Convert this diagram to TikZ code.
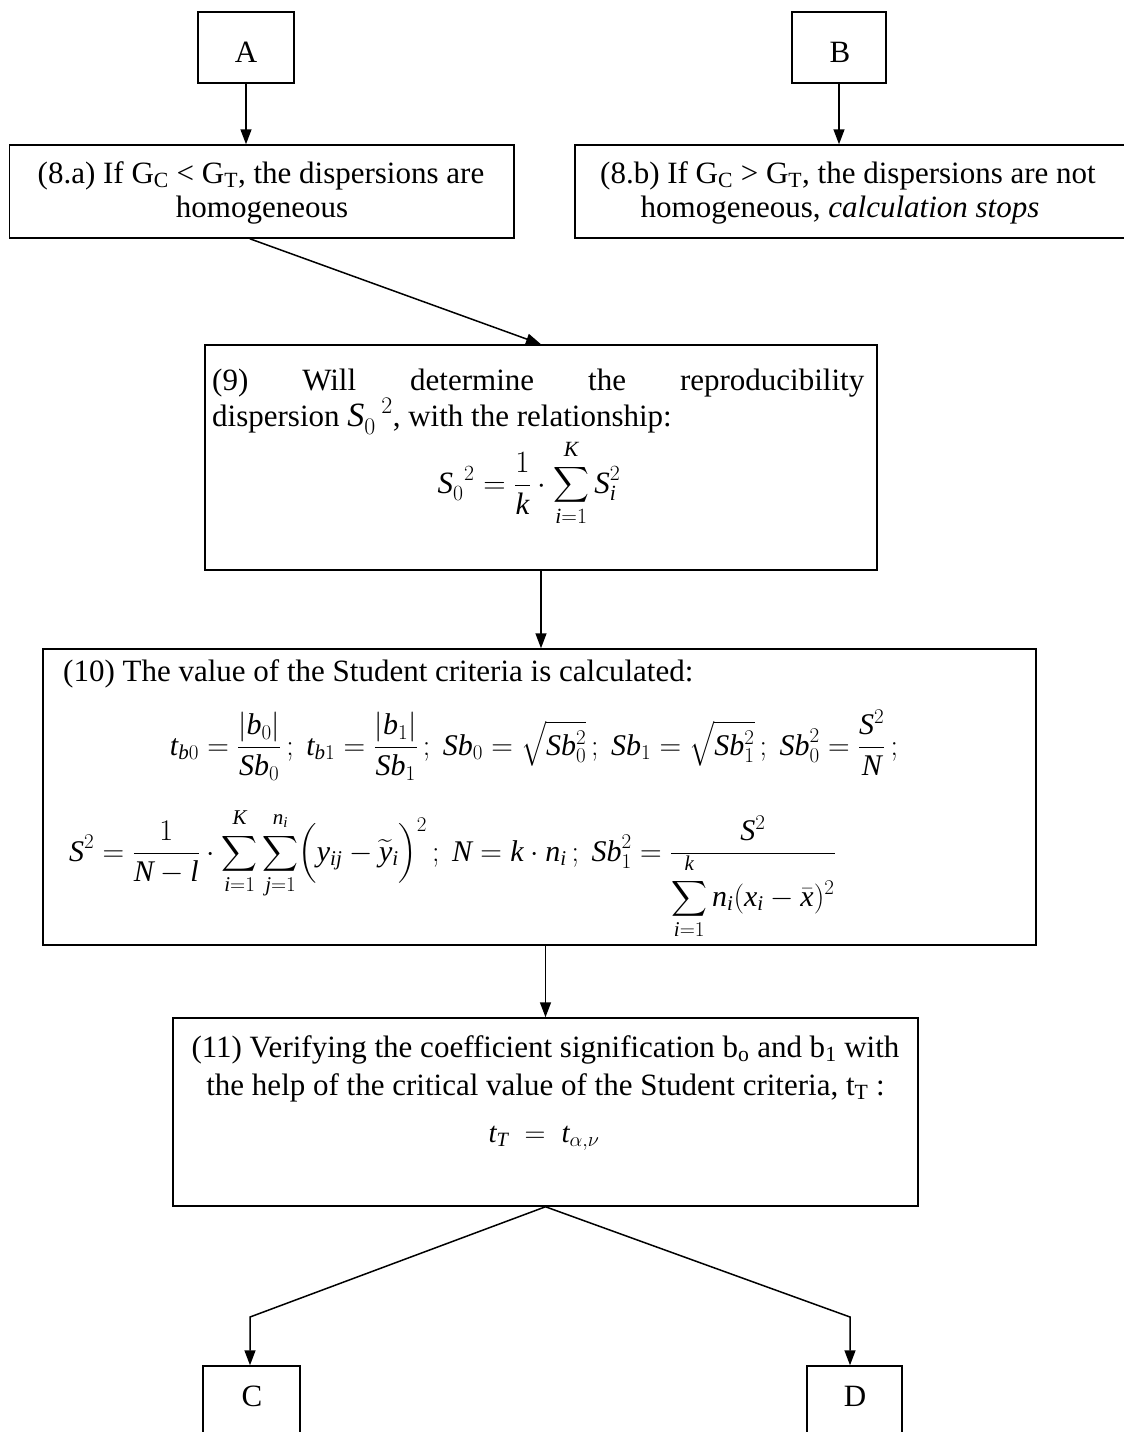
\RequirePackage{fix-cm}
\documentclass[tikz,border=0pt]{standalone}
\usepackage{amsmath}
\usepackage{fontspec}
\setmainfont{Liberation Serif}
\DeclareSymbolFont{tlet}{TU}{\rmdefault}{m}{it}
\DeclareSymbolFont{tupr}{TU}{\rmdefault}{m}{n}
\def\mylet#1{\ifx#1\relax\else\DeclareMathSymbol{#1}{\mathalpha}{tlet}{`#1}\expandafter\mylet\fi}
\mylet abcdefghijklmnopqrstuvwxyzABCDEFGHIJKLMNOPQRSTUVWXYZ\relax
\def\mydig#1{\ifx#1\relax\else\DeclareMathSymbol{#1}{\mathalpha}{tupr}{`#1}\expandafter\mydig\fi}
\mydig 0123456789\relax
\newcommand\uplim[1]{\raisebox{4pt}{$\scriptstyle #1$}}
\usetikzlibrary{arrows.meta}
\tikzset{
  box/.style={draw, line width=1.5pt, inner sep=0pt},
  conn/.style={line width=1.5pt, -{Triangle[length=15pt,width=11pt]}},
  txt/.style={inner sep=0pt, font=\fontsize{31}{35}\selectfont},
  mth/.style={inner sep=0pt, font=\fontsize{30}{34}\selectfont},
  mthb/.style={inner sep=0pt, font=\fontsize{31}{35}\selectfont},
  mths/.style={inner sep=0pt, font=\fontsize{29}{33}\selectfont},
}
\begin{document}
\begin{tikzpicture}[x=1pt,y=-1pt]
\useasboundingbox (0,0) rectangle (1124,1432);
\clip (0,0) rectangle (1124,1432);
% boxes
\node[box, minimum width=96pt, minimum height=71pt] (A) at (246,47.5) {};
\node[box, minimum width=94pt, minimum height=71pt] (B) at (839,47.5) {};
\node[box, minimum width=504.4pt, minimum height=93pt] (b8a) at (261.8,191.5) {};
\node[box, minimum width=555pt, minimum height=93pt] (b8b) at (852.5,191.5) {};
\node[box, minimum width=672pt, minimum height=225pt] (b9) at (541,457.5) {};
\node[box, minimum width=993pt, minimum height=296pt] (b10) at (539.5,797) {};
\node[box, minimum width=745pt, minimum height=188pt] (b11) at (545.5,1112) {};
\node[box, minimum width=97pt, minimum height=94pt] (C) at (251.5,1413) {};
\node[box, minimum width=95pt, minimum height=94pt] (D) at (854.5,1413) {};
% texts
\node[txt, anchor=base] (tA) at (246,62) {A};
\node[txt, anchor=base] (tB) at (840,62) {B};
\node[txt, anchor=base] (t8a1) at (261,183) {(8.a) If G\textsubscript{C} < G\textsubscript{T}, the dispersions are};
\node[txt, anchor=base] (t8a2) at (262,217) {homogeneous};
\node[txt, anchor=base] (t8b1) at (848,183) {(8.b) If G\textsubscript{C} > G\textsubscript{T}, the dispersions are not};
\node[txt, anchor=base] (t8b2) at (840,217) {homogeneous, \textit{calculation stops}};
\node[txt, anchor=base west] (t91) at (212,390) {\makebox[652pt][s]{(9) Will determine the reproducibility}};
\node[txt, anchor=base west] (t92) at (212,426) {dispersion {\fontsize{34}{38}\selectfont$S_0^{\hspace{17pt}2}$}, with the relationship:};
\node[mthb, anchor=base] (t93) at (529,493) {$\displaystyle S_0^{\hspace{11pt}2}=\frac{1}{k}\cdot\sum_{i=1}^{\uplim{K}}S_i^2$};
\node[txt, anchor=base west] (t101) at (63,681) {(10) The value of the Student criteria is calculated:};
\node[mth, anchor=base] (t102) at (534,755) {$\displaystyle t_{b0}=\frac{|b_0|}{Sb_0}\,;\ t_{b1}=\frac{|b_1|}{Sb_1}\,;\ Sb_0=\sqrt{Sb_0^2}\,;\ Sb_1=\sqrt{Sb_1^2}\,;\ Sb_0^2=\frac{S^2}{N}\,;$};
\node[mth, anchor=base west] (t103) at (69,861) {$\displaystyle S^2=\frac{1}{N-l}\cdot\sum_{i=1}^{\uplim{K}}\sum_{j=1}^{\uplim{n_i}}\Bigl(y_{ij}-\widetilde{y}_i\Bigr)^2\,;\ N=k\cdot n_i\,;\ Sb_1^2=\frac{S^2}{\raisebox{4pt}[\height][\depth]{$\displaystyle\sum_{i=1}^{\uplim{k}}n_i(x_i-\bar{x})^2$}}$};
\node[txt, anchor=base] (t111) at (545.5,1057) {(11) Verifying the coefficient signification b\textsubscript{o} and b\textsubscript{1} with};
\node[txt, anchor=base] (t112) at (545.5,1095) {the help of the critical value of the Student criteria, t\textsubscript{T} :};
\node[mths, anchor=base] (t113) at (544,1142) {$t_T\;=\;t_{\alpha,\nu}$};
\node[txt, anchor=base] (tC) at (252,1406) {C};
\node[txt, anchor=base] (tD) at (855,1406) {D};
% connectors
\draw[conn] (A.south) -- (A.south |- b8a.north);
\draw[conn] (B.south) -- (B.south |- b8b.north);
\draw[conn] ([xshift=-12pt]b8a.south) -- (b9.north);
\draw[conn] (b9.south) -- (b9.south |- b10.north);
\draw[conn] (b11.north |- b10.south) -- (b11.north);
\coordinate (kC) at (250,1317);
\coordinate (kD) at (850,1317);
\draw[conn] (b11.south) -- (kC) -- (kC |- C.north);
\draw[conn] (b11.south) -- (kD) -- (kD |- D.north);
\end{tikzpicture}
\end{document}
